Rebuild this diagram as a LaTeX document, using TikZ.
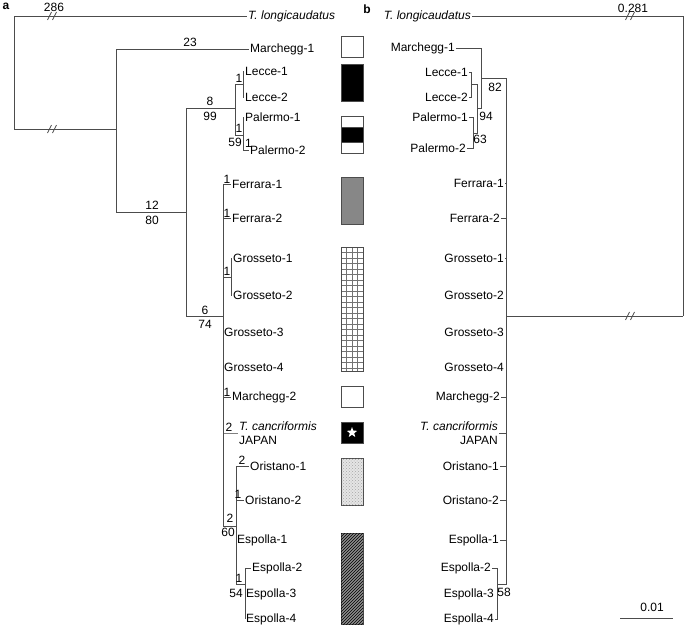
\documentclass[tikz,border=0pt]{standalone}
\usepackage{fontspec}
\setmainfont{Liberation Sans}
\usetikzlibrary{shapes.geometric,patterns}

\begin{document}
\begin{tikzpicture}[x=1pt,y=-1pt,
  font=\fontsize{12}{13.5}\selectfont,
  branch/.style={draw=black!70,line width=0.9pt},
  brk/.style={draw=black!70,line width=0.8pt},
  taxL/.style={anchor=west,inner sep=1pt},
  taxR/.style={anchor=east,inner sep=1pt},
  num/.style={inner sep=0pt},
  panel/.style={font=\fontsize{12}{13.5}\selectfont\bfseries,inner sep=0pt},
  hapbox/.style={draw=black!70,line width=0.9pt,minimum width=22pt,inner sep=0pt,fill=white},
  gridln/.style={draw=black!55,line width=0.4pt}
]
  \useasboundingbox (0,0) rectangle (685,626);

  % panel a: parsimony tree
  \node[panel] (pa) at (6,6) {a};
  \coordinate (a0) at (14,129);
  \coordinate (a1) at (116,129);
  \coordinate (a2) at (186,212);
  \coordinate (a3) at (235,108);
  \coordinate (a4) at (223,316);
  \coordinate (a5) at (243,84);
  \coordinate (a6) at (243,135);
  \coordinate (a7) at (231,277);
  \coordinate (a8) at (236,526);
  \coordinate (a9) at (245,584);

  \node[taxL,font=\fontsize{12}{13.5}\selectfont\itshape] (tlA) at (247,16) {T. longicaudatus};
  \node[taxL] (mar1a) at (249,49) {Marchegg-1};
  \node[taxL] (lec1a) at (244,71) {Lecce-1};
  \node[taxL] (lec2a) at (244,97) {Lecce-2};
  \node[taxL] (pal1a) at (244,117) {Palermo-1};
  \node[taxL] (pal2a) at (249,150) {Palermo-2};
  \node[taxL] (fer1a) at (231,184) {Ferrara-1};
  \node[taxL] (fer2a) at (231,218) {Ferrara-2};
  \node[taxL] (gro1a) at (232,258) {Grosseto-1};
  \node[taxL] (gro2a) at (232,295) {Grosseto-2};
  \node[taxL] (gro3a) at (223,332) {Grosseto-3};
  \node[taxL] (gro4a) at (223,367) {Grosseto-4};
  \node[taxL] (mar2a) at (231,397) {Marchegg-2};
  \node[taxL,align=left] (tcanA) at (238,433) {\textit{T. cancriformis}\\JAPAN};
  \node[taxL] (ori1a) at (249,466) {Oristano-1};
  \node[taxL] (ori2a) at (244,500) {Oristano-2};
  \node[taxL] (esp1a) at (236,540) {Espolla-1};
  \node[taxL] (esp2a) at (251,568) {Espolla-2};
  \node[taxL] (esp3a) at (245,594) {Espolla-3};
  \node[taxL] (esp4a) at (245,619) {Espolla-4};

  \draw[branch] (a0) |- (tlA.west);
  \draw[branch] (a0) -- (a1);
  \draw[branch] (a1) |- (mar1a.west);
  \draw[branch] (a1) |- (a2);
  \draw[branch] (a2) |- (a3);
  \draw[branch] (a2) |- (a4);
  \draw[branch] (a3) |- (a5);
  \draw[branch] (a3) |- (a6);
  \draw[branch] (a5) |- (lec1a.west);
  \draw[branch] (a5) |- (lec2a.west);
  \draw[branch] (a6) |- (pal1a.west);
  \draw[branch] (a6) |- (pal2a.west);
  \draw[branch] (a4) |- (fer1a.west);
  \draw[branch] (a4) |- (fer2a.west);
  \draw[branch] (a4) |- (a7);
  \draw[branch] (a7) |- (gro1a.west);
  \draw[branch] (a7) |- (gro2a.west);
  \draw[branch] (a4) |- (mar2a.west);
  \draw[branch,draw=black!50] (a4) |- (tcanA.west);
  \draw[branch] (a4) |- (a8);
  \draw[branch] (a8) |- (ori1a.west);
  \draw[branch] (a8) |- (ori2a.west);
  \draw[branch] (a8) |- (a9);
  \draw[branch] (a9) |- (esp2a.west);
  \draw[branch] (a9) |- (esp4a.west);

  \node[num] (l286) at (54,7) {286};
  \node[num] (l23) at (190,42) {23};
  \node[num] (l8) at (210,101) {8};
  \node[num] (l99) at (210,116) {99};
  \node[num] (l1lec) at (239,78) {1};
  \node[num] (l1pal) at (239,128) {1};
  \node[num] (l59) at (235,142) {59};
  \node[num] (l1pal2) at (248.5,143) {1};
  \node[num] (l12) at (152,205) {12};
  \node[num] (l80) at (152,220) {80};
  \node[num] (l6) at (205,310) {6};
  \node[num] (l74) at (205,324) {74};
  \node[num] (l1fer1) at (227,179) {1};
  \node[num] (l1fer2) at (227,213) {1};
  \node[num] (l1gro) at (227,271) {1};
  \node[num] (l1mar2) at (227,392) {1};
  \node[num] (l2tcan) at (229,427) {2};
  \node[num] (l2ori1) at (242,460) {2};
  \node[num] (l1ori2) at (238,494) {1};
  \node[num] (l2esp) at (230,518) {2};
  \node[num] (l60) at (228,532) {60};
  \node[num] (l1esp) at (239,578) {1};
  \node[num] (l54) at (236,593) {54};

  % haplotype boxes
  \node[hapbox,minimum height=21pt] (h1) at (352,46.5) {};
  \node[hapbox,minimum height=37pt,fill=black] (h2) at (352,82.5) {};
  \node[hapbox,minimum height=37pt] (h3) at (352,134.5) {};
  \node[hapbox,minimum height=15pt,fill=black] (h3b) at (352,134.5) {};
  \node[hapbox,minimum height=47pt,fill=black!47] (h4) at (352,200.5) {};
  \node[hapbox,minimum height=124pt] (h5) at (352,309) {};
  \foreach \gx in {346.5,352,357.5}
    \draw[gridln] (\gx,247) -- (\gx,371);
  \foreach \gy in {252.5,258,...,368}
    \draw[gridln] (341,\gy) -- (363,\gy);
  \node[hapbox,minimum height=124pt,fill=none] (h5f) at (352,309) {};
  \node[hapbox,minimum height=21pt] (h6) at (352,396.5) {};
  \node[hapbox,minimum height=21pt,fill=black] (h7) at (352,432.5) {};
  \node[star,star points=5,star point ratio=2.4,fill=white,minimum size=11pt,inner sep=0pt] (str) at (h7) {};
  \node[hapbox,minimum height=47pt,fill=black!10,
        postaction={pattern=crosshatch dots,pattern color=black!35}] (h8) at (352,481.5) {};
  \node[hapbox,minimum height=91pt,fill=black!45,
        postaction={pattern=north east lines,pattern color=black}] (h9) at (352,578.5) {};

  % panel b: distance tree
  \node[panel] (pb) at (367,9) {b};
  \coordinate (b0) at (683,316);
  \coordinate (b1) at (506,316);
  \coordinate (b2) at (481,78);
  \coordinate (b3) at (477,108);
  \coordinate (b4) at (471,84);
  \coordinate (b5) at (473,133);
  \coordinate (b6) at (497,584);

  \node[taxR,font=\fontsize{12}{13.5}\selectfont\itshape] (tlB) at (472,16) {T. longicaudatus};
  \node[taxR] (mar1b) at (456,48) {Marchegg-1};
  \node[taxR] (lec1b) at (469,72) {Lecce-1};
  \node[taxR] (lec2b) at (469,97) {Lecce-2};
  \node[taxR] (pal1b) at (469,117) {Palermo-1};
  \node[taxR] (pal2b) at (467,148) {Palermo-2};
  \node[taxR] (fer1b) at (505,183) {Ferrara-1};
  \node[taxR] (fer2b) at (501,218) {Ferrara-2};
  \node[taxR] (gro1b) at (505,258) {Grosseto-1};
  \node[taxR] (gro2b) at (505,295) {Grosseto-2};
  \node[taxR] (gro3b) at (505,332) {Grosseto-3};
  \node[taxR] (gro4b) at (505,367) {Grosseto-4};
  \node[taxR] (mar2b) at (501,397) {Marchegg-2};
  \node[taxR,align=right] (tcanB) at (499,433) {\textit{T. cancriformis}\\JAPAN};
  \node[taxR] (ori1b) at (500,466) {Oristano-1};
  \node[taxR] (ori2b) at (500,500) {Oristano-2};
  \node[taxR] (esp1b) at (500,540) {Espolla-1};
  \node[taxR] (esp2b) at (492,568) {Espolla-2};
  \node[taxR] (esp3b) at (495,594) {Espolla-3};
  \node[taxR] (esp4b) at (495,619) {Espolla-4};

  \draw[branch] (tlB.east) -| (b0);
  \draw[branch] (b0) -- (b1);
  \draw[branch] (b1) |- (b2);
  \draw[branch] (b2) |- (mar1b.east);
  \draw[branch] (b2) |- (b3);
  \draw[branch] (b3) |- (b4);
  \draw[branch] (b3) |- (b5);
  \draw[branch] (b4) |- (lec1b.east);
  \draw[branch] (b4) |- (lec2b.east);
  \draw[branch] (b5) |- (pal1b.east);
  \draw[branch] (b5) |- (pal2b.east);
  \draw[branch] (b1) |- (fer1b.east);
  \draw[branch] (b1) |- (fer2b.east);
  \draw[branch] (b1) |- (gro1b.east);
  \draw[branch] (b1) |- (mar2b.east);
  \draw[branch] (b1) |- (tcanB.east);
  \draw[branch] (b1) |- (ori1b.east);
  \draw[branch] (b1) |- (ori2b.east);
  \draw[branch] (b1) |- (esp1b.east);
  \draw[branch] (b1) |- (b6);
  \draw[branch] (b6) |- (esp2b.east);
  \draw[branch] (b6) |- (esp4b.east);

  \node[num] (l0281) at (633,8) {0.281};
  \node[num] (l82) at (495,87) {82};
  \node[num] (l94) at (486,116) {94};
  \node[num] (l63) at (480,139) {63};
  \node[num] (l58) at (504,592) {58};

  % long-branch breaks
  \coordinate (k1) at (52,16);
  \coordinate (k2) at (52,129);
  \coordinate (k3) at (630,16);
  \coordinate (k4) at (630,316);
  \foreach \k in {k1,k2,k3,k4}{
    \draw[brk] ([xshift=-2.5pt]\k) +(-2,4) -- +(2,-4);
    \draw[brk] ([xshift=2.5pt]\k) +(-2,4) -- +(2,-4);
  }

  % scale bar
  \coordinate (sb1) at (620,618);
  \coordinate (sb2) at (673,618);
  \draw[branch] (sb1) -- (sb2);
  \node[num] (sbl) at (652,607) {0.01};
\end{tikzpicture}
\end{document}
